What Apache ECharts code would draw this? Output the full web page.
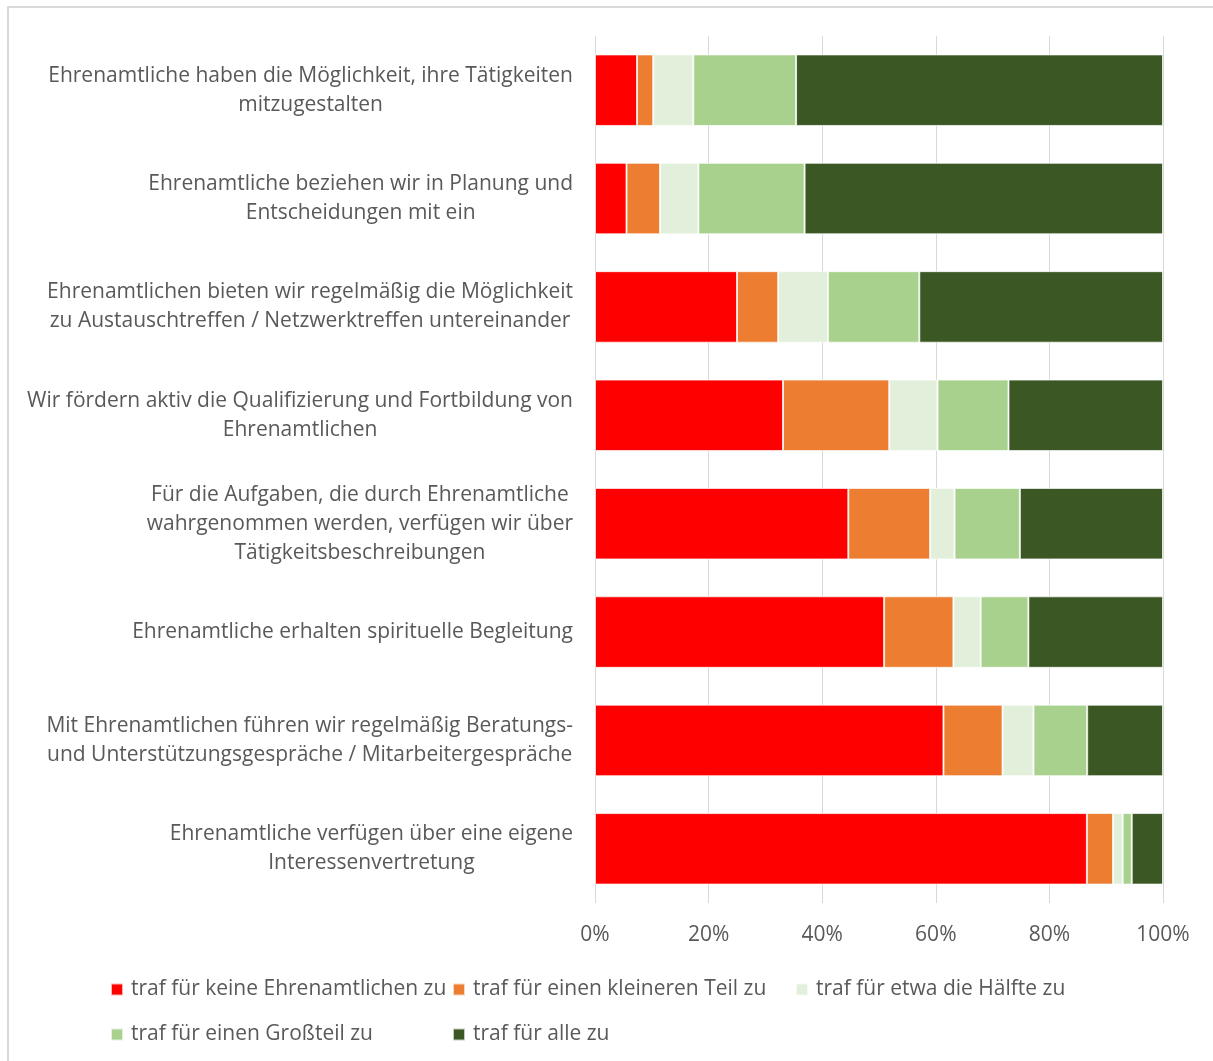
<!DOCTYPE html>
<html>
<head>
<meta charset="utf-8">
<script src="https://cdn.jsdelivr.net/npm/echarts@6/dist/echarts.min.js"></script>
<style>
  html, body { margin: 0; padding: 0; background: #fff; }
  #chart { width: 1213px; height: 1061px; }
</style>
</head>
<body>
<div id="chart"></div>
<script>
// Aussagen (Kategorien, von oben nach unten)
var categories = [
	'Ehrenamtliche haben die Möglichkeit, ihre Tätigkeiten\nmitzugestalten',
	'Ehrenamtliche beziehen wir in Planung und\nEntscheidungen mit ein',
	'Ehrenamtlichen bieten wir regelmäßig die Möglichkeit\nzu Austauschtreffen / Netzwerktreffen untereinander',
	'Wir fördern aktiv die Qualifizierung und Fortbildung von\nEhrenamtlichen',
	'Für die Aufgaben, die durch Ehrenamtliche\nwahrgenommen werden, verfügen wir über\nTätigkeitsbeschreibungen',
	'Ehrenamtliche erhalten spirituelle Begleitung',
	'Mit Ehrenamtlichen führen wir regelmäßig Beratungs-\nund Unterstützungsgespräche / Mitarbeitergespräche',
	'Ehrenamtliche verfügen über eine eigene\nInteressenvertretung'
];

var seriesNames = [
	'traf für keine Ehrenamtlichen zu',
	'traf für einen kleineren Teil zu',
	'traf für etwa die Hälfte zu',
	'traf für einen Großteil zu',
	'traf für alle zu'
];

// Anteile in %
var keine = [7.4, 5.55, 25.0, 33.1, 44.6, 50.9, 61.35, 86.6];
var kleinerTeil = [2.85, 5.9, 7.25, 18.7, 14.4, 12.2, 10.4, 4.6];
var haelfte = [7.05, 6.75, 8.75, 8.5, 4.3, 4.8, 5.45, 1.7];
var grossteil = [18.1, 18.7, 16.1, 12.5, 11.5, 8.4, 9.45, 1.6];
var alle = [64.6, 63.1, 42.9, 27.2, 25.2, 23.7, 13.35, 5.5];

var xTicks = [0, 20, 40, 60, 80, 100];

var colors = ['#FF0000', '#ED7D31', '#E2EFDA', '#A9D18E', '#3A5724'];
var values = [keine, kleinerTeil, haelfte, grossteil, alle];

var font = 'Open Sans';
var textColor = '#595959';

var myChart = echarts.init(document.getElementById('chart'));

var series = seriesNames.map(function(name, i) {
	return {
		name: name,
		type: 'bar',
		stack: 'total',
		barWidth: '66%',
		itemStyle: {
			color: colors[i],
			borderColor: 'rgba(255,255,255,0.7)',
			borderWidth: 1
		},
		emphasis: { disabled: true },
		data: values[i]
	};
});

// Legende im Raster wie im Original (3 Spalten, 2 Zeilen)
var legendPos = [
	[110, 979], [452, 979], [795, 979],
	[110, 1024], [452, 1024]
];
var legends = seriesNames.map(function(name, i) {
	return {
		data: [name],
		left: legendPos[i][0],
		top: legendPos[i][1],
		padding: 0,
		icon: 'rect',
		itemWidth: 12,
		itemHeight: 12,
		selectedMode: false,
		textStyle: {
			fontFamily: font,
			fontSize: 21,
			color: textColor,
			padding: [0, 0, 0, 3]
		}
	};
});

var option = {
	animation: false,
	backgroundColor: '#fff',
	color: colors,
	graphic: [{
		type: 'rect',
		shape: { x: 8, y: 7, width: 1230, height: 1080 },
		style: { fill: 'none', stroke: '#D9D9D9', lineWidth: 2 },
		silent: true
	}],
	legend: legends,
	grid: {
		left: 595,
		right: 50,
		top: 36,
		height: 867
	},
	xAxis: {
		type: 'value',
		min: xTicks[0],
		max: xTicks[xTicks.length - 1],
		interval: 20,
		axisLine: { show: false },
		axisTick: { show: false },
		splitLine: { lineStyle: { color: '#D9D9D9', width: 1 } },
		axisLabel: {
			formatter: '{value}%',
			fontFamily: font,
			fontSize: 21,
			color: textColor,
			margin: 22
		}
	},
	yAxis: {
		type: 'category',
		inverse: true,
		data: categories,
		axisLine: { show: false },
		axisTick: { show: false },
		axisLabel: {
			margin: 22,
			formatter: function(v) {
				return v.split('\n').map(function(line) {
					return '{c|' + line + '}';
				}).join('\n');
			},
			rich: {
				c: {
					align: 'center',
					fontFamily: font,
					fontSize: 21,
					lineHeight: 29,
					color: textColor
				}
			}
		}
	},
	series: series
};

myChart.setOption(option);
</script>
</body>
</html>
